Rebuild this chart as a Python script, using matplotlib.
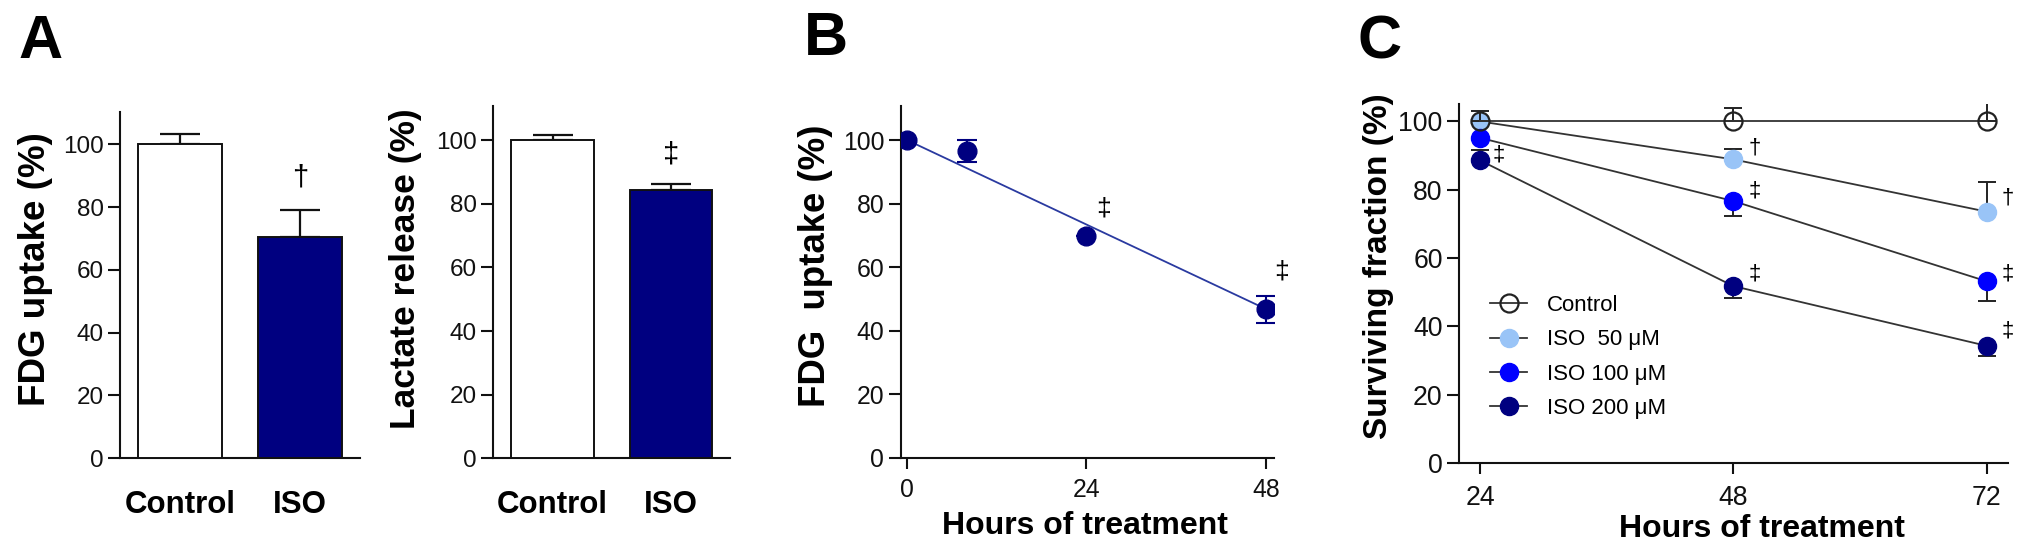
import matplotlib
matplotlib.use("Agg")
import matplotlib.pyplot as plt
import numpy as np

plt.rcParams['font.family'] = ['Liberation Sans', 'DejaVu Sans']

NAVY = '#000080'

# ---------------- data ----------------
bar_groups = ['Control', 'ISO']
fdg_bar = [100.0, 70.5]
fdg_bar_err = [3.3, 8.6]
lactate_bar = [100.0, 84.2]
lactate_bar_err = [1.7, 1.9]
bar_colors = ['white', NAVY]

b_hours = [0, 8, 24, 48]
b_fdg = [100.0, 96.5, 69.8, 46.7]
b_fdg_err = [0.0, 3.4, 0.0, 4.2]
fit_hours = [0, 48]
fit_fdg = [100.0, 46.8]
b_marks_x = [26.3, 50.1]
b_marks_y = [78.5, 58.5]

c_hours = [24, 48, 72]
c_labels = ['Control', 'ISO  50 \u03bcM', 'ISO 100 \u03bcM', 'ISO 200 \u03bcM']
c_values = [
    [100.0, 100.0, 100.0],
    [100.0, 88.9, 73.6],
    [95.2, 76.7, 53.2],
    [88.6, 51.8, 34.3],
]
c_err_lo = [
    [0.0, 0.0, 0.0],
    [0.0, 0.0, 0.0],
    [0.0, 4.4, 5.8],
    [0.0, 3.6, 2.9],
]
c_err_hi = [
    [3.2, 3.9, 6.5],
    [0.0, 3.1, 8.6],
    [0.0, 0.0, 0.0],
    [3.0, 0.0, 0.0],
]
c_colors = ['none', '#99c4f7', '#0000ff', NAVY]
c_edge = ['#222222', '#99c4f7', '#0000ff', NAVY]
c_marks_x = [25.8, 50.0, 50.0, 50.0, 74.0, 74.0, 74.0]
c_marks_y = [90.2, 92.2, 79.7, 55.4, 77.7, 55.4, 38.7]
c_marks_s = ['\u2021', '\u2020', '\u2021', '\u2021', '\u2020', '\u2021', '\u2021']

# ---------------- figure ----------------
fig = plt.figure(figsize=(20.3, 5.57), dpi=100)

def style(ax, tsize):
    for s in ['top', 'right']:
        ax.spines[s].set_visible(False)
    for s in ['left', 'bottom']:
        ax.spines[s].set_linewidth(1.5)
        ax.spines[s].set_color('#111111')
    ax.tick_params(axis='y', direction='out', length=8.7, width=1.5,
                   labelsize=tsize, pad=3.0, colors='#111111')
    ax.set_yticks([0, 20, 40, 60, 80, 100])

def bar_panel(rect, vals, errs, ylab, ysize, ytop, labcoord, mark):
    ax = fig.add_axes(rect)
    style(ax, 17.5)
    x = np.arange(len(bar_groups))
    ax.bar(x, vals, width=0.7, color=bar_colors, edgecolor='#111111',
           linewidth=1.4, zorder=3)
    ax.errorbar(x, vals, yerr=[np.zeros(len(vals)), errs], fmt='none',
                ecolor='#111111', elinewidth=1.6, capsize=14.6, capthick=1.6,
                zorder=2)
    ax.set_xlim(-0.5, 1.5)
    ax.set_ylim(0, ytop)
    ax.set_xticks(x)
    ax.set_xticklabels(bar_groups, fontsize=22.5, fontweight='bold')
    ax.tick_params(axis='x', length=0, pad=23)
    ax.set_ylabel(ylab, fontsize=ysize, fontweight='bold')
    ax.yaxis.set_label_coords(*labcoord)
    ax.text(1, mark[1], mark[0], ha='center', va='center', fontsize=21)
    return ax

bar_panel([0.0591, 0.1772, 0.1182, 0.6224], fdg_bar, fdg_bar_err,
          'FDG uptake (%)', 26.5, 110.4, (-0.280, 0.545), ('\u2020', 89.5))
bar_panel([0.2430, 0.1772, 0.1167, 0.6318], lactate_bar, lactate_bar_err,
          'Lactate release (%)', 25.5, 110.6, (-0.300, 0.539), ('\u2021', 95.5))

# ---- panel B ----
axb = fig.add_axes([0.4436, 0.1786, 0.1840, 0.6303])
style(axb, 17.8)
axb.plot(fit_hours, fit_fdg, color='#2a3aa0', lw=1.3, zorder=2)
axb.errorbar(b_hours, b_fdg, yerr=b_fdg_err, fmt='o', color=NAVY, ms=13.5,
             ecolor=NAVY, elinewidth=1.5, capsize=7.2, capthick=1.5, zorder=3)
axb.set_xlim(-0.88, 49.1)
axb.set_ylim(0, 110.6)
axb.set_xticks([0, 24, 48])
axb.tick_params(axis='x', direction='out', length=7.7, width=1.5,
                labelsize=17.8, pad=6.8, colors='#111111')
axb.set_ylabel('FDG  uptake (%)', fontsize=26.4, fontweight='bold')
axb.yaxis.set_label_coords(-0.181, 0.545)
axb.set_xlabel('Hours of treatment', fontsize=23, fontweight='bold')
axb.xaxis.set_label_coords(0.494, -0.152)
for xx, yy in zip(b_marks_x, b_marks_y):
    axb.text(xx, yy, '\u2021', ha='center', va='center', fontsize=19,
             clip_on=False)

# ---- panel C ----
axc = fig.add_axes([0.7187, 0.1688, 0.2703, 0.6450])
style(axc, 19.2)
order = [1, 2, 3, 0]
handles = {}
for i in order:
    z = 4 if i else 6
    axc.errorbar(c_hours, c_values[i], yerr=[c_err_lo[i], c_err_hi[i]],
                 fmt='none', ecolor='#222222', elinewidth=1.4, capsize=6.2,
                 capthick=1.4, zorder=z - 1)
    h, = axc.plot(c_hours, c_values[i], '-o', color='#333333', lw=1.3,
                  ms=13, mfc=c_colors[i], mec=c_edge[i],
                  mew=1.6 if i == 0 else 1.0, label=c_labels[i], zorder=z)
    handles[i] = h
axc.set_xlim(22.0, 74.0)
axc.set_ylim(0, 105.2)
axc.set_xticks(c_hours)
axc.tick_params(axis='x', direction='out', length=7.7, width=1.5,
                labelsize=19.2, pad=8.5, colors='#111111')
axc.set_ylabel('Surviving fraction (%)', fontsize=24, fontweight='bold')
axc.yaxis.set_label_coords(-0.119, 0.548)
axc.set_xlabel('Hours of treatment', fontsize=23, fontweight='bold')
axc.xaxis.set_label_coords(0.553, -0.142)
for xx, yy, ss in zip(c_marks_x, c_marks_y, c_marks_s):
    axc.text(xx, yy, ss, ha='center', va='center', fontsize=16,
             clip_on=False)
leg = axc.legend([handles[i] for i in range(4)], c_labels, loc='upper left',
                 bbox_to_anchor=(0.0565, 0.4676), frameon=False, fontsize=16,
                 handlelength=1.67, handletextpad=0.9, labelspacing=0.6,
                 borderpad=0, borderaxespad=0)

# panel letters
fig.text(0.0089, 0.896, 'A', fontsize=44, fontweight='bold', va='baseline')
fig.text(0.396, 0.901, 'B', fontsize=44, fontweight='bold', va='baseline')
fig.text(0.6685, 0.895, 'C', fontsize=44, fontweight='bold', va='baseline')

fig.savefig('out.png', dpi=100, facecolor='white')
